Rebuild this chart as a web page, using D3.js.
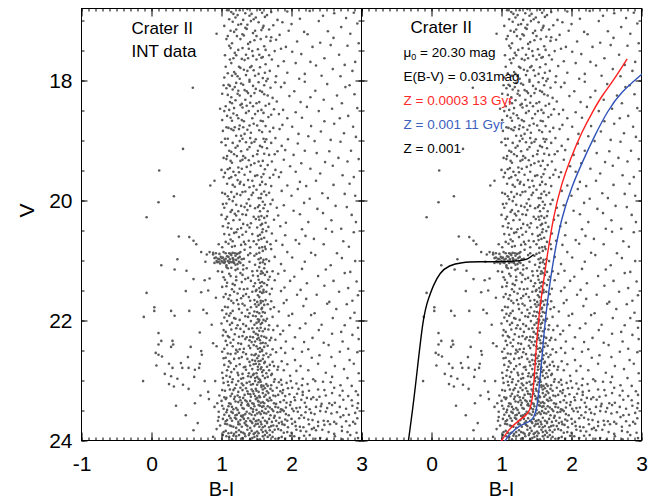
<!DOCTYPE html>
<html>
<head>
<meta charset="utf-8">
<script src="https://cdn.jsdelivr.net/npm/d3@7"></script>
<style>
  body { margin: 0; background: #fff; }
  svg { display: block; font-family: "Liberation Sans", Arial, Helvetica, sans-serif; }
</style>
</head>
<body>
<svg id="chart" width="657" height="498"></svg>
<script>
// Crater II colour-magnitude diagram (B-I vs V).
// Each row string holds the stars of one 0.1 mag slice in V, starting at V = 16.8.
// Token "BBBd": B-I = BBB/100 - 1, V = slice start + d/100.
const starRows = [
  "2083 2146 2179 2263 2348 2371 2439 2552 2587 2716 2945 3264 3618 3897",
  "2118 2205 2231 2319 2402 2468 2495 2624 2651 2809 3127 3452 3786",
  "2049 2162 2247 2286 2377 2421 2533 2609 2748 2873 3006 3391 3945",
  "2137 2189 2215 2342 2364 2487 2576 2592 2685 2967 3189 3528 3711",
  "1932 2096 2226 2303 2325 2451 2506 2647 2718 2834 3233 3609 3842",
  "2071 2158 2271 2389 2416 2473 2561 2704 2782 3085 3417 3968",
  "2112 2136 2249 2306 2397 2528 2613 2639 2857 2924 3304 3561 3802",
  "2058 2194 2218 2357 2441 2459 2547 2688 2761 3012 3146 3687",
  "2125 2173 2294 2336 2383 2505 2572 2591 2725 2898 3279 3473 3919",
  "2067 2141 2257 2279 2418 2436 2558 2633 2816 3061 3355 3764",
  "2098 2186 2209 2322 2374 2463 2539 2627 2694 2947 3199 3591 3874",
  "2045 2152 2233 2267 2351 2409 2482 2596 2667 2783 3117 3432 3703",
  "2038 2107 2129 2214 2285 2317 2402 2459 2533 2618 2641 2773 2904 3192 3516 3838",
  "1592 2073 2165 2191 2247 2336 2368 2494 2557 2589 2702 2851 3048 3347 3771",
  "2012 2094 2148 2232 2265 2381 2426 2471 2613 2665 2739 2976 3278 3655 3903",
  "2126 2158 2203 2299 2342 2417 2508 2546 2689 2795 3136 3462 3728",
  "1987 2063 2119 2186 2271 2305 2362 2453 2579 2632 2758 2889 3224 3587 3946",
  "2041 2089 2175 2228 2354 2391 2486 2521 2604 2717 2826 3063 3391 3819",
  "2016 2132 2157 2243 2296 2328 2443 2567 2598 2671 2943 3152 3478 3693",
  "2078 2109 2198 2265 2318 2405 2462 2515 2636 2749 2874 3017 3286 3612 3887",
  "2024 2141 2173 2251 2339 2372 2427 2543 2586 2695 2831 3109 3425 3758",
  "2057 2097 2212 2282 2307 2416 2498 2607 2648 2776 2958 3243 3569 3924",
  "2003 2068 2164 2239 2261 2353 2434 2472 2559 2622 2714 2869 3095 3331 3702",
  "1454 2117 2149 2202 2288 2375 2401 2527 2581 2653 2808 2916 3197 3548 3857",
  "2039 2086 2183 2226 2316 2349 2456 2513 2612 2684 2763 3034 3361 3679",
  "2071 2134 2157 2274 2302 2393 2478 2535 2594 2725 2892 3148 3486 3805 3961",
  "2009 2098 2126 2245 2297 2364 2421 2562 2628 2661 2779 2983 3277 3592",
  "1110 2054 2172 2208 2253 2337 2412 2489 2518 2606 2747 2853 3062 3415 3738",
  "1907 2031 2113 2141 2236 2279 2386 2447 2571 2589 2692 2821 3129 3357 3891",
  "1845 2082 2164 2197 2262 2324 2408 2466 2554 2633 2716 2945 3216 3604 3832",
  "2017 2059 2146 2229 2306 2345 2457 2502 2579 2615 2687 2864 3091 3448 3769",
  "1323 2093 2118 2184 2271 2398 2431 2536 2566 2641 2739 3002 3267 3526 3912",
  "1103 2026 2075 2161 2217 2289 2365 2419 2548 2592 2627 2706 2898 3184 3639",
  "2042 2139 2156 2248 2331 2376 2483 2521 2558 2603 2668 2792 3037 3374 3791",
  "0938 2004 2087 2192 2215 2303 2354 2467 2537 2576 2619 2656 2815 3123 3451 3864",
  "2061 2108 2173 2262 2319 2428 2491 2542 2589 2637 2752 2927 3246 3573 3926",
  "2023 2095 2147 2238 2286 2371 2405 2515 2561 2598 2674 2843 3158 3497 3717",
  "2046 2117 2184 2213 2307 2352 2446 2529 2557 2583 2641 2725 2918 3209 3582 3893",
  "1390 1541 1607 2069 2135 2168 2251 2329 2397 2468 2536 2574 2612 2659 2787 3066 3324 3748",
  "1643 1963 2018 2102 2157 2196 2284 2343 2418 2503 2549 2588 2627 2703 2874 3112 3463 3827",
  "1716 1836 1887 1928 1979 2036 2068 2118 2139 2167 2198 2229 2258 2276 2332 2418 2509 2547 2594 2631 2711 2946 3287 3658",
  "1378 1790 1880 1906 1925 1957 1978 1994 2016 2025 2049 2067 2083 2104 2128 2141 2166 2178 2202 2219 2246 2264 2298 2327 2381 2472 2538 2566 2609 2648 2764 3015 3341 3726",
  "1148 1772 1904 1931 1943 1962 1985 2001 2023 2044 2052 2078 2091 2114 2122 2153 2171 2184 2207 2236 2252 2274 2318 2402 2487 2554 2593 2626 2681 2856 3192 3568 3911",
  "1335 1507 1958 2019 2071 2093 2142 2206 2234 2315 2363 2448 2517 2541 2578 2613 2659 2738 2907 3154 3495 3849",
  "2038 2112 2136 2217 2271 2304 2389 2455 2526 2562 2591 2624 2697 2812 3047 3386 3761",
  "1601 1763 1830 2052 2087 2169 2213 2296 2341 2424 2488 2532 2557 2586 2618 2672 2763 2984 3228 3604 3935",
  "2014 2073 2158 2191 2267 2328 2377 2463 2509 2546 2573 2609 2651 2727 2905 3139 3472 3816",
  "0934 1491 1713 1810 2066 2128 2182 2235 2319 2356 2442 2491 2528 2552 2584 2603 2642 2696 2851 3087 3367 3682 3958",
  "1922 2031 2104 2147 2226 2283 2391 2417 2476 2519 2541 2567 2598 2636 2718 2936 3214 3549 3877",
  "1048 2057 2098 2171 2243 2302 2335 2428 2483 2507 2534 2561 2589 2614 2663 2758 2891 3176 3512 3793",
  "1044 1284 1544 1742 1798 2013 2079 2138 2164 2251 2297 2372 2408 2475 2516 2548 2571 2596 2627 2701 2825 3019 3338 3641 3907",
  "0894 1332 2045 2112 2186 2207 2269 2343 2384 2452 2493 2528 2549 2573 2609 2657 2734 2962 3281 3596 3846",
  "1867 2005 2081 2127 2154 2238 2316 2359 2421 2477 2504 2532 2566 2584 2631 2688 2809 2978 3205 3437 3768",
  "2036 2069 2145 2213 2274 2329 2394 2443 2469 2513 2547 2562 2598 2624 2675 2746 2887 3123 3396 3719 3952",
  "1101 1690 2025 2096 2118 2193 2257 2306 2368 2417 2458 2492 2524 2539 2576 2617 2649 2719 2843 3058 3309 3582 3874",
  "1144 1304 1888 2064 2137 2172 2248 2289 2341 2403 2436 2485 2511 2553 2568 2597 2638 2693 2772 2925 3186 3467 3735 3961",
  "1100 1310 1284 1564 1933 2047 2081 2163 2219 2268 2327 2392 2416 2461 2503 2527 2556 2589 2614 2662 2738 2856 3027 3248 3531 3817",
  "1064 1107 1711 1727 2012 2095 2136 2205 2232 2313 2356 2437 2478 2496 2539 2552 2581 2608 2645 2707 2783 2914 3152 3408 3692 3943",
  "1150 1521 2033 2062 2118 2184 2253 2291 2374 2409 2446 2487 2513 2538 2567 2594 2629 2671 2739 2868 3056 3292 3571 3836",
  "1075 1252 1309 1449 1421 1539 1689 1692 2044 2107 2131 2216 2263 2328 2347 2415 2463 2492 2527 2543 2578 2611 2657 2694 2756 2817 2943 3136 3382 3626 3892",
  "1199 1622 2017 2083 2146 2181 2237 2309 2352 2398 2441 2469 2508 2522 2561 2586 2603 2648 2683 2729 2802 2893 3074 3243 3497 3751 3968",
  "1283 1377 1614 2026 2072 2124 2168 2241 2287 2316 2383 2424 2451 2486 2514 2537 2559 2592 2626 2664 2711 2768 2859 2982 3167 3318 3584 3806",
  "0881 1256 1457 1761 1911 2034 2092 2108 2153 2217 2241 2295 2318 2364 2402 2427 2456 2481 2517 2533 2562 2578 2609 2646 2669 2718 2752 2823 2867 2934 2991 3075 3158 3236 3341 3452 3563 3708 3869",
  "1320 1534 1819 2016 2057 2125 2176 2193 2249 2272 2306 2353 2378 2435 2458 2494 2507 2539 2571 2595 2623 2658 2704 2737 2792 2848 2886 2953 3012 3104 3169 3257 3385 3476 3612 3737 3928",
  "1705 1975 2048 2079 2136 2152 2197 2235 2268 2319 2334 2382 2413 2427 2462 2486 2519 2546 2558 2591 2617 2634 2671 2699 2745 2776 2814 2871 2916 2973 3048 3082 3164 3229 3318 3407 3495 3581 3695 3816 3954",
  "1628 1821 1948 2004 2061 2118 2139 2181 2205 2246 2273 2297 2343 2365 2389 2414 2448 2469 2491 2524 2535 2567 2596 2618 2652 2674 2713 2758 2789 2846 2893 2937 2996 3053 3142 3197 3281 3362 3439 3548 3627 3742 3863 3958",
  "1352 1904 2012 2037 2089 2103 2154 2178 2216 2239 2281 2306 2327 2371 2392 2426 2458 2473 2509 2531 2552 2584 2603 2637 2663 2695 2728 2774 2815 2858 2879 2925 2981 3017 3076 3125 3214 3268 3354 3423 3516 3581 3694 3787 3872 3946",
  "1498 1962 2047 2073 2119 2142 2164 2208 2227 2254 2289 2318 2346 2362 2405 2437 2452 2488 2515 2543 2566 2581 2614 2645 2672 2708 2741 2769 2803 2842 2891 2926 2968 3031 3092 3148 3203 3284 3336 3411 3492 3575 3653 3748 3827 3914",
  "1961 1957 2024 2068 2086 2133 2157 2192 2214 2249 2276 2301 2324 2358 2383 2417 2439 2464 2498 2507 2536 2569 2592 2627 2659 2684 2729 2752 2787 2832 2869 2915 2947 3004 3059 3113 3182 3245 3306 3389 3467 3528 3619 3701 3788 3889 3943",
  "1661 1985 2052 2083 2125 2146 2177 2219 2243 2263 2297 2331 2354 2376 2419 2441 2476 2493 2522 2547 2573 2598 2626 2651 2688 2716 2745 2796 2821 2873 2904 2958 3012 3066 3127 3178 3253 3329 3386 3474 3553 3642 3727 3835 3912",
  "1603 1931 2036 2064 2108 2147 2189 2216 2253 2286 2317 2339 2372 2408 2434 2469 2487 2515 2538 2572 2596 2634 2657 2693 2736 2762 2811 2853 2897 2946 3007 3072 3134 3215 3291 3353 3442 3536 3619 3724 3806 3937",
  "1884 2021 2073 2114 2158 2172 2213 2251 2287 2306 2343 2391 2418 2446 2474 2512 2529 2558 2593 2621 2664 2691 2734 2777 2826 2864 2917 2982 3043 3116 3182 3261 3347 3416 3509 3623 3738 3841 3956"
];
const rowStartV = 16.8;
const rowStepV = 0.1;

// Isochrones [B-I, V]
const isoZ0003Age13 = [[0.98,24.05],[1.0,24.0],[1.095,23.83],[1.238,23.67],[1.357,23.58],[1.405,23.5],[1.438,23.33],
  [1.467,23.0],[1.495,22.44],[1.538,21.89],[1.581,21.5],[1.643,21.0],[1.738,20.28],[1.857,19.72],[1.976,19.33],
  [2.148,18.85],[2.325,18.47],[2.438,18.25],[2.581,18.03],[2.795,17.64]];
const isoZ001Age11 = [[1.03,24.05],[1.05,24.0],[1.143,23.86],[1.286,23.73],[1.405,23.69],[1.467,23.61],[1.51,23.44],[1.538,23.11],
  [1.571,22.72],[1.61,22.17],[1.652,21.72],[1.69,21.4],[1.738,21.0],[1.857,20.28],[2.0,19.78],[2.143,19.39],
  [2.338,18.9],[2.52,18.5],[2.70,18.2],[3.02,17.88]];
const zahbZ001 = [[-0.335,24.05],[-0.238,23.22],[-0.119,21.89],[-0.035,21.61],[0.024,21.42],[0.119,21.2],[0.25,21.08],
  [0.43,21.03],[0.67,21.02],[1.0,21.02],[1.25,21.01],[1.38,20.98],[1.46,20.9]];

// Axis ticks
const xMajorTicks = [-1, 0, 1, 2, 3];
const xMinorTicks = d3.range(-10, 31).map(d => d / 10);
const yMajorTicks = [18, 20, 22, 24];
const yMinorTicks = d3.range(34, 49).map(d => d / 2);

// Annotation lines of the right panel
const annotations = [
  { text: "E(B-V) = 0.031mag", color: "#000000" },
  { text: "Z = 0.0003 13 Gyr", color: "#ff2a2a" },
  { text: "Z = 0.001 11 Gyr", color: "#3d5fbe" },
  { text: "Z = 0.001", color: "#000000" }
];

const stars = [];
starRows.forEach((row, i) => {
  row.split(" ").forEach(tok => {
    stars.push({ bi: +tok.slice(0, 3) / 100 - 1, v: rowStartV + i * rowStepV + (+tok[3]) / 100 });
  });
});

const svg = d3.select("#chart");
const root = svg.append("g").attr("transform", "translate(0.5,0.5)");

const y = d3.scaleLinear().domain([16.8, 24]).range([8, 440]);
const panels = [
  { x: d3.scaleLinear().domain([-1, 3]).range([81, 361]), id: "L" },
  { x: d3.scaleLinear().domain([-1, 3]).range([361, 641]), id: "R" }
];

const tickFont = 21;

panels.forEach(p => {
  const x = p.x;
  const [x0, x1] = x.range();
  const [y0, y1] = y.range();

  svg.append("defs").append("clipPath").attr("id", "clip" + p.id)
    .append("rect").attr("x", x0 + 0.5).attr("y", y0 + 0.5).attr("width", x1 - x0).attr("height", y1 - y0);

  const g = root.append("g");

  // stars
  g.append("g").attr("clip-path", `url(#clip${p.id})`)
    .selectAll("circle").data(stars).join("circle")
    .attr("cx", d => x(d.bi)).attr("cy", d => y(d.v))
    .attr("r", 1.3).attr("fill", "#5a5a5a");

  // axes
  const styleAxis = sel => {
    sel.select(".domain").remove();
    sel.selectAll("line").attr("stroke", "#000").attr("stroke-width", 1);
    sel.selectAll("text").attr("font-size", tickFont).attr("font-family", "Liberation Sans, Arial, sans-serif").attr("fill", "#000");
  };

  const fmtX = p.id === "L" ? (d => String(d)) : (d => d === -1 ? "" : String(d));
  g.append("g").attr("transform", `translate(0,${y1})`)
    .call(d3.axisBottom(x).tickValues(xMajorTicks).tickSize(-8).tickSizeOuter(0).tickPadding(16).tickFormat(fmtX))
    .call(styleAxis);
  g.append("g").attr("transform", `translate(0,${y1})`)
    .call(d3.axisBottom(x).tickValues(xMinorTicks).tickSize(-3).tickSizeOuter(0).tickFormat(""))
    .call(styleAxis);
  g.append("g").attr("transform", `translate(0,${y0})`)
    .call(d3.axisTop(x).tickValues(xMajorTicks).tickSize(-8).tickSizeOuter(0).tickFormat(""))
    .call(styleAxis);
  g.append("g").attr("transform", `translate(0,${y0})`)
    .call(d3.axisTop(x).tickValues(xMinorTicks).tickSize(-3).tickSizeOuter(0).tickFormat(""))
    .call(styleAxis);

  // left side of panel (ticks pointing right)
  const leftMajor = d3.axisLeft(y).tickValues(yMajorTicks).tickSize(-6).tickSizeOuter(0).tickPadding(9);
  if (p.id === "R") leftMajor.tickFormat("");
  else leftMajor.tickFormat(d => String(d));
  g.append("g").attr("transform", `translate(${x0},0)`).call(leftMajor).call(styleAxis);
  g.append("g").attr("transform", `translate(${x0},0)`)
    .call(d3.axisLeft(y).tickValues(yMinorTicks).tickSize(-3).tickSizeOuter(0).tickFormat(""))
    .call(styleAxis);

  // right side of panel (ticks pointing left)
  g.append("g").attr("transform", `translate(${x1},0)`)
    .call(d3.axisRight(y).tickValues(yMajorTicks).tickSize(-6).tickSizeOuter(0).tickFormat(""))
    .call(styleAxis);
  g.append("g").attr("transform", `translate(${x1},0)`)
    .call(d3.axisRight(y).tickValues(yMinorTicks).tickSize(-3).tickSizeOuter(0).tickFormat(""))
    .call(styleAxis);

  // frame
  g.append("rect").attr("x", x0).attr("y", y0).attr("width", x1 - x0).attr("height", y1 - y0)
    .attr("fill", "none").attr("stroke", "#000").attr("stroke-width", 1);

  // x title
  g.append("text").attr("x", (x0 + x1) / 2).attr("y", 495).attr("text-anchor", "middle")
    .attr("font-size", 20).text("B-I");

  if (p.id === "R") {
    const line = d3.line().x(d => x(d[0])).y(d => y(d[1])).curve(d3.curveBasis);
    const curves = g.append("g").attr("clip-path", `url(#clip${p.id})`).attr("fill", "none").attr("stroke-width", 1.4);
    curves.append("path").attr("d", line(zahbZ001)).attr("stroke", "#000");
    curves.append("path").attr("d", line(isoZ0003Age13)).attr("stroke", "#ff1f1f");
    curves.append("path").attr("d", line(isoZ001Age11)).attr("stroke", "#2f52b8");

    g.append("text").attr("x", 410).attr("y", 32).attr("font-size", 17).text("Crater II");
    const mu = g.append("text").attr("x", 403).attr("y", 56).attr("font-size", 13.5);
    mu.append("tspan").text("\u03bc");
    mu.append("tspan").attr("font-size", 9).attr("dy", 3).text("0");
    mu.append("tspan").attr("dy", -3).text(" = 20.30 mag");
    g.selectAll("text.ann").data(annotations).join("text").attr("class", "ann")
      .attr("x", 403).attr("y", (d, i) => 80 + i * 24)
      .attr("font-size", 13.5).attr("fill", d => d.color).text(d => d.text);
  } else {
    g.append("text").attr("x", 131).attr("y", 33).attr("font-size", 17).text("Crater II");
    g.append("text").attr("x", 131).attr("y", 56).attr("font-size", 17).text("INT data");
    g.append("text").attr("transform", "translate(33,210) rotate(-90)").attr("text-anchor", "middle")
      .attr("font-size", 21).text("V");
  }
});
</script>
</body>
</html>
